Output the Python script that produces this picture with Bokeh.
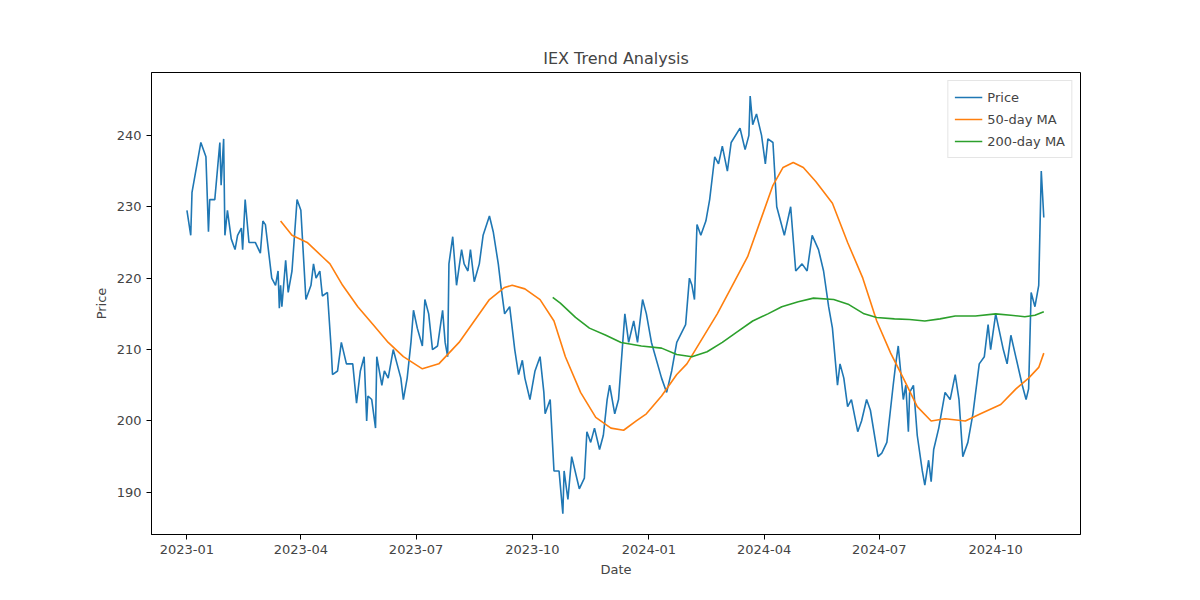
import datetime as dt
from bokeh.plotting import figure
from bokeh.models import FixedTicker, DatetimeTickFormatter, Legend, Range1d
from bokeh.embed import file_html
from bokeh.resources import INLINE

BASE = dt.datetime(2023, 1, 1)
price_days = [0,3,4,11,15,17,18,22,23,26,27,29,30,32,35,38,40,43,44,46,49,54,58,60,62,67,70,72,73,74,75,78,80,83,87,90,94,98,100,102,105,107,111,114,115,119,122,126,131,134,137,140,142,143,146,149,150,154,156,159,163,166,169,171,174,177,179,182,186,188,191,194,198,202,204,206,207,210,213,217,219,222,224,227,231,234,239,242,246,248,251,255,259,262,265,267,271,275,279,282,283,287,290,294,297,298,301,304,310,314,316,319,322,326,329,332,334,338,341,346,349,353,356,360,363,367,375,379,383,387,394,397,399,401,403,406,410,413,417,420,423,427,430,437,441,444,445,447,450,454,457,459,463,466,472,477,481,486,490,494,499,503,507,510,514,516,519,522,525,530,533,537,540,546,549,553,558,560,562,566,568,570,571,574,577,581,583,586,588,590,594,599,603,607,610,613,617,621,626,630,633,635,639,645,648,651,660,663,665,667,670,673,675,677]
price = [229.5,226,232,239,237,226.5,231,231,233,239,233,239.5,226,229.5,225.5,224,226,227,224,231,225,225,223.5,228,227.5,220,219,221,215.8,219,216,222.5,218,221,231,229.5,217,219,222,220,221,217.5,218,210,206.5,207,211,208,208,202.5,207,209,200,203.5,203,199,209,205,207,206,210,208,206,203,206,211,215.5,213,210.5,217,215,210,210.5,215.5,211,209,222,225.8,219,224,222,221,224,219.5,222,226,228.7,226.5,222,219,215,216,210,206.5,208.5,206,203,207,209,204,201,203,193,193,187,193,189,195,190.5,192,198.5,197,199,196,198,203,205,201,203,215,211,214,211,217,215,211,206,204,207,211,213.5,220,219,217,227.5,226,228,231,237,236,238.5,235,239,241,238,240,245.5,241.5,243,240,236,239.5,239,230,226,230,221,222,221,226,224,221,216,213,205,208,206,202,203,198.5,200,203,201.5,195,195.5,197,205,208,210.5,203,205,198.5,204,205,198,193,191,194.5,191.5,196,199,204,203,206.5,203,195,197,201,208,209,213.5,210,215,210,208,212,205,203,204.5,218,216,219,235,228.5]
ma50_days = [74,83,95,107,113,123,135,147,159,171,186,199,215,227,239,251,257,267,279,290,299,311,323,335,345,355,363,375,387,395,407,419,431,443,455,463,471,479,487,497,510,522,534,545,556,566,577,588,599,615,627,643,655,665,673,677]
ma50 = [228,226,225,223,222,219,216,213.5,211,209,207.3,208,211,214,217,218.7,219,218.5,217,214,209,204,200.5,199,198.7,200,201,203.5,206.5,208,211.5,215,219,223,229,233,235.5,236.2,235.5,233.5,230.5,225,220,214,209.5,206,202,200,200.3,200,201,202.3,204.5,206,207.5,209.5]
ma200_days = [289,295,307,318,331,343,359,375,387,399,411,423,435,447,459,470,483,495,511,523,535,545,559,571,583,595,607,623,639,651,662,670,677]
ma200 = [217.3,216.5,214.5,213,212,211,210.5,210.2,209.3,209,209.7,211,212.5,214,215,216,216.7,217.2,217,216.3,215,214.5,214.3,214.2,214,214.3,214.7,214.7,215,214.8,214.6,214.8,215.3]
tick_dates = ["2023-01-01","2023-04-01","2023-07-01","2023-10-01","2024-01-01","2024-04-01","2024-07-01","2024-10-01"]

def to_dt(days):
    return [BASE + dt.timedelta(days=d) for d in days]

def ms(s):
    return (dt.datetime.fromisoformat(s) - dt.datetime(1970, 1, 1)).total_seconds() * 1000

p = figure(width=1184, height=584, x_axis_type="datetime", output_backend="svg",
           toolbar_location=None, title="IEX Trend Analysis",
           min_border_left=151, min_border_right=104, min_border_bottom=50, min_border_top=72)
p.title.align = "center"
p.title.text_font = "DejaVu Sans"
p.title.text_font_size = "16px"
p.title.text_font_style = "normal"
p.x_range = Range1d(ms("2022-12-04"), ms("2024-12-07"))
p.y_range = Range1d(184.1, 248.8)

colors = ["#1f77b4", "#ff7f0e", "#2ca02c"]
r1 = p.line(to_dt(price_days), price, line_color=colors[0], line_width=1.6)
r2 = p.line(to_dt(ma50_days), ma50, line_color=colors[1], line_width=1.6)
r3 = p.line(to_dt(ma200_days), ma200, line_color=colors[2], line_width=1.6)

legend = Legend(items=[("Price", [r1]), ("50-day MA", [r2]), ("200-day MA", [r3])],
                location="top_right", label_text_font="DejaVu Sans", label_text_font_size="13px",
                border_line_color="#cccccc", glyph_width=28, spacing=2, padding=6, margin=8)
p.add_layout(legend)

p.xaxis.ticker = FixedTicker(ticks=[ms(t) for t in tick_dates])
p.xaxis.formatter = DatetimeTickFormatter(months="%Y-%m", days="%Y-%m", years="%Y-%m")
p.yaxis.ticker = FixedTicker(ticks=[190, 200, 210, 220, 230, 240])
p.xaxis.axis_label = "Date"
p.yaxis.axis_label = "Price"
for ax in (p.xaxis, p.yaxis):
    ax.axis_label_text_font = "DejaVu Sans"
    ax.axis_label_text_font_size = "13px"
    ax.axis_label_text_font_style = "normal"
    ax.major_label_text_font = "DejaVu Sans"
    ax.major_label_text_font_size = "13px"
    ax.minor_tick_line_color = None
    ax.major_tick_in = 0
    ax.major_tick_out = 5
    ax.axis_line_color = "black"
p.xgrid.grid_line_color = None
p.ygrid.grid_line_color = None
p.outline_line_color = "black"

open("out.html", "w").write(file_html(p, INLINE))
